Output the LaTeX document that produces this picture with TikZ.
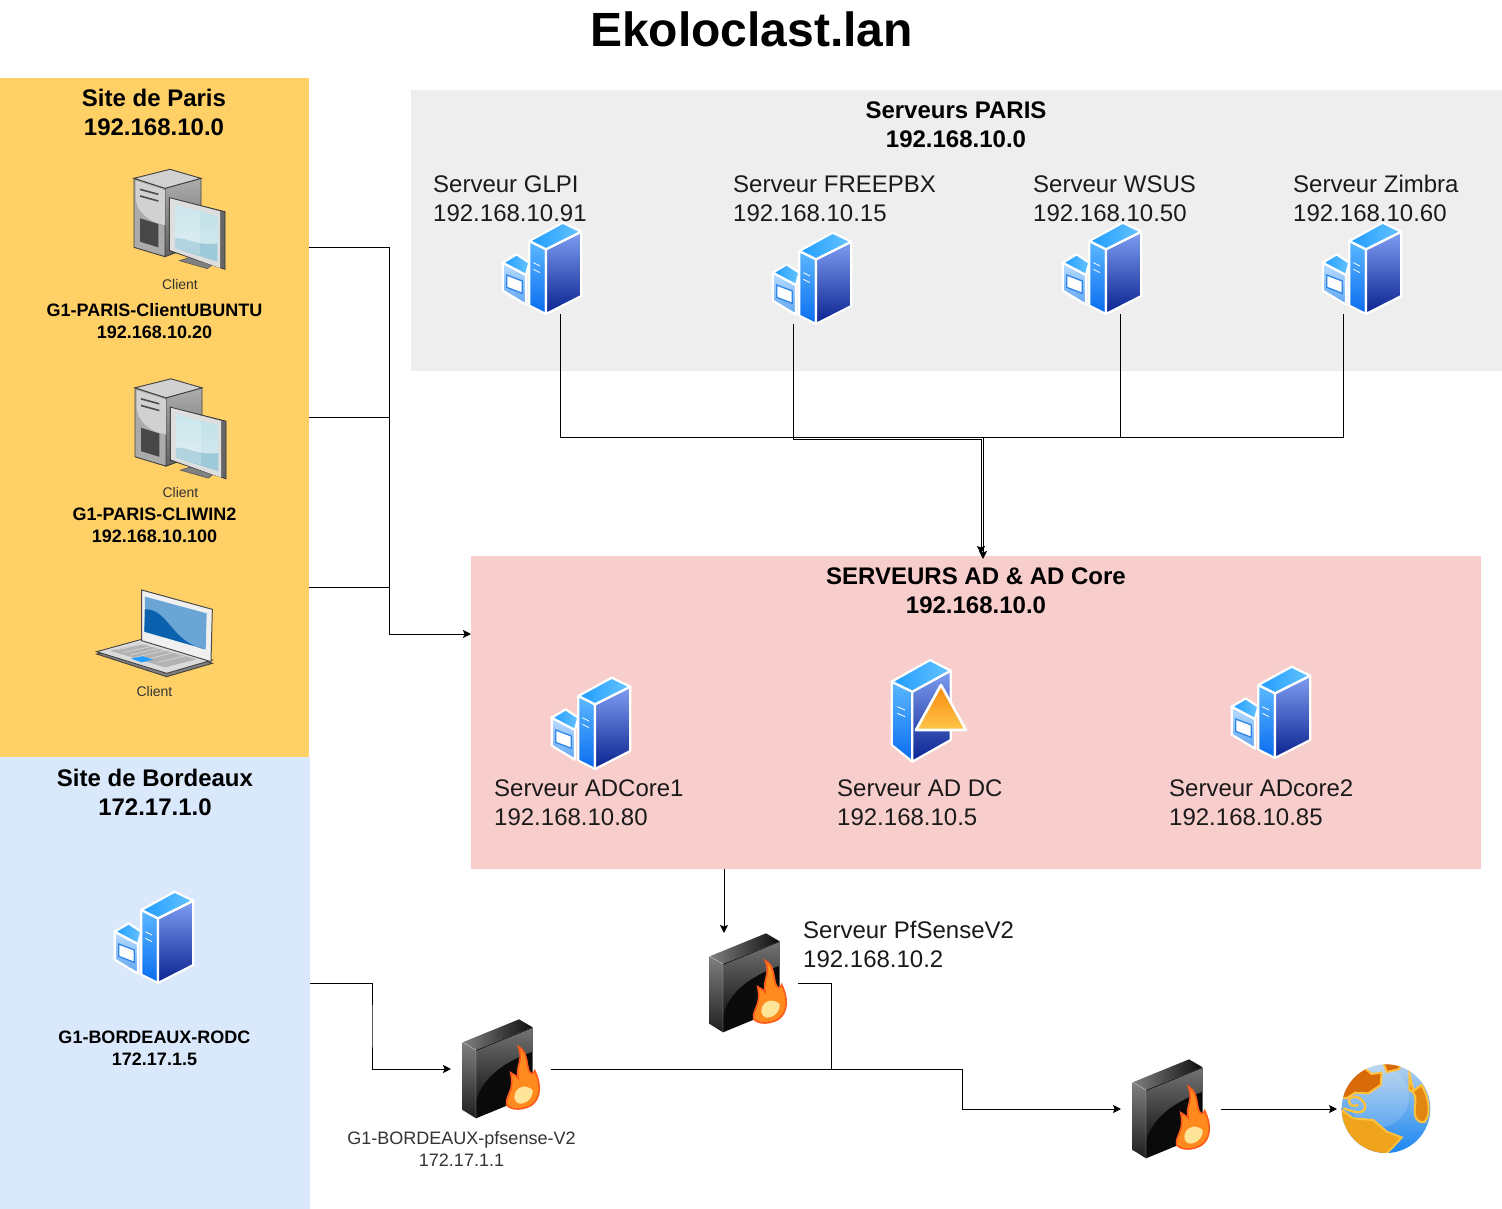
\documentclass[tikz,border=0pt]{standalone}
\usepackage{fontspec}
\setmainfont{Liberation Sans}
\usetikzlibrary{arrows.meta,calc}
\definecolor{parisfill}{HTML}{FFD066}
\definecolor{bordfill}{HTML}{DAE8FC}
\definecolor{greyfill}{HTML}{EEEEEE}
\definecolor{redfill}{HTML}{F8CECC}
\definecolor{txt}{HTML}{1A1A1A}
\definecolor{smalltxt}{HTML}{333333}
\definecolor{sLa}{HTML}{5CB8FF}\definecolor{sLb}{HTML}{0A6CF0}
\definecolor{sRa}{HTML}{7F9EF2}\definecolor{sRb}{HTML}{0A2290}
\definecolor{sTa}{HTML}{1F9CFF}\definecolor{sTb}{HTML}{66C4FF}
\definecolor{sBa}{HTML}{BBDDFF}\definecolor{sBb}{HTML}{5FA6F2}
\definecolor{sWin}{HTML}{2E86E8}
\definecolor{triA}{HTML}{F78A0C}\definecolor{triB}{HTML}{FFC64A}
\definecolor{glassA}{HTML}{BEDFE9}\definecolor{glassB}{HTML}{D8ECEE}
\definecolor{glassC}{HTML}{9DC9D8}
\definecolor{lapA}{HTML}{6AA5D6}\definecolor{lapB}{HTML}{0A62AE}
\definecolor{flameO}{HTML}{FF5A1C}\definecolor{flameM}{HTML}{FF8A1E}\definecolor{flameC}{HTML}{FFE59A}
\definecolor{glA}{HTML}{B4D0EC}\definecolor{glB}{HTML}{1A86F2}
\definecolor{glY}{HTML}{FFC23C}\definecolor{glD}{HTML}{D96A08}\definecolor{glM}{HTML}{F0A31C}\definecolor{glE}{HTML}{E28612}
\tikzset{
  x=1pt,y=-1pt,
  panel/.style={draw=none,inner sep=0pt,outer sep=0pt,minimum width=#1},
  iconbox/.style={inner sep=0pt,outer sep=0pt,minimum width=80pt,minimum height=92pt},
  fwbox/.style={inner sep=0pt,outer sep=0pt,minimum width=100pt,minimum height=100pt},
  rowbox/.style={inner sep=0pt,outer sep=0pt,minimum width=309pt,minimum height=10pt},
  conn/.style={draw=black,line width=1pt},
  arr/.style={conn,-{Stealth[length=8pt,width=8pt,inset=1.5pt]}},
  headtxt/.style={inner sep=0pt,align=center,text=black,font=\fontsize{24}{29}\selectfont\bfseries},
  srvtxt/.style={inner sep=0pt,align=left,anchor=west,text=txt,font=\fontsize{24}{29}\selectfont},
  cltxt/.style={inner sep=0pt,align=center,text=black,font=\fontsize{18}{22}\selectfont\bfseries},
  smalltext/.style={inner sep=0pt,align=center,text=smalltxt,font=\fontsize{14}{17}\selectfont},
  fwtxt/.style={inner sep=0pt,align=center,text=smalltxt,font=\fontsize{18}{22}\selectfont},
  wf/.style={draw=white,line width=2.2pt,line join=round},
  server/.pic={
    \begin{scope}[scale=1/3]
      \path[wf,top color=sBa,bottom color=sBb] (38,158)--(108,195)--(108,284)--(38,242)--cycle;
      \path[wf,left color=sTa,right color=sTb] (38,158)--(80,133)--(118,158)--(108,195)--cycle;
      \path[draw=sWin,fill=white,line width=1.3pt] (50,195)--(97,213)--(97,250)--(50,232)--cycle;
      \path[wf,top color=sLa,bottom color=sLb] (118,93)--(168,118)--(168,312)--(118,287)--cycle;
      \path[wf,top color=sRa,bottom color=sRb] (168,118)--(274,65)--(274,258)--(168,312)--cycle;
      \path[wf,left color=sTa,right color=sTb] (118,93)--(218,38)--(274,65)--(168,118)--cycle;
      \path[draw=white,line width=.8pt] (130,158)--(150,168) (130,178)--(150,188);
    \end{scope}
  },
  adserver/.pic={
    \begin{scope}[scale=1/3]
      \path[wf,top color=sLa,bottom color=sLb] (35,95)--(97,125)--(97,335)--(35,285)--cycle;
      \path[wf,top color=sRa,bottom color=sRb] (97,125)--(212,62)--(212,270)--(97,335)--cycle;
      \path[wf,left color=sTa,right color=sTb] (35,95)--(150,30)--(212,62)--(97,125)--cycle;
      \path[draw=white,line width=.8pt] (52,170)--(75,180) (52,190)--(75,200);
      \path[draw=white,line width=2.6pt,line join=round,top color=triA,bottom color=triB] (183,105)--(258,240)--(108,240)--cycle;
    \end{scope}
  },
  pcicon/.pic={
    \begin{scope}[scale=1/3]
      \path[draw=black!75,line width=.9pt,top color=black!32,bottom color=black!62] (225,85)--(333,55)--(333,250)--(225,290)--cycle;
      \path[draw=black!75,line width=.9pt,fill=black!33] (132,55)--(225,85)--(225,290)--(132,262)--cycle;
      \path[fill=black!18] (137,62)--(225,90)--(225,195) .. controls (170,185) and (137,150) .. (137,110)--cycle;
      \path[draw=black!75,line width=.9pt,fill=black!18] (132,55)--(240,28)--(333,55)--(225,85)--cycle;
      \path[fill=black!72] (150,175)--(205,192)--(205,262)--(150,245)--cycle;
      \path[draw=black!70,line width=1.6pt] (150,88)--(205,103) (150,108)--(205,123);
      \path[draw=black!65,fill=black!50,line width=.6pt] (268,302)--(300,292)--(370,312)--(352,326)--cycle;
      \path[draw=black!80,fill=black!60,line width=.7pt] (238,113)--(405,155)--(405,328)--(238,272)--cycle;
      \path[fill=black!13] (240,115)--(390,154)--(390,324)--(240,270)--cycle;
      \path[top color=glassA,bottom color=glassB] (255,133)--(382,168)--(382,305)--(255,265)--cycle;
      \path[fill=glassC] (255,235) .. controls (290,230) and (320,260) .. (382,250) -- (382,305) -- (255,265)--cycle;
      \path[fill=white,opacity=.22] (255,133)--(330,153)--(330,285)--(255,265)--cycle;
    \end{scope}
  },
  laptop/.pic={
    \begin{scope}[scale=1/3]
      \path[draw=black!75,fill=black!50,line width=.9pt] (35,222)--(170,188)--(382,250)--(245,290)--cycle;
      \path[draw=black!75,fill=black!14,line width=.9pt] (35,215)--(170,178)--(382,240)--(245,280)--cycle;
      \path[fill=black!6,draw=black!70,line width=1pt] (170,30)--(382,88)--(378,245)--(170,182)--cycle;
      \path[fill=lapA] (180,50)--(365,100)--(362,208)--(178,155)--cycle;
      \path[fill=lapB] (180,88) .. controls (250,85) and (260,190) .. (362,208) -- (178,155) -- cycle;
      \path[fill=black!30] (75,212)--(170,192)--(335,238)--(240,262)--cycle;
      \path[draw=black!12,line width=.5pt] (95,210)--(185,190) (115,218)--(205,198) (135,225)--(225,204) (155,231)--(245,210) (185,238)--(265,218) (215,248)--(300,228);
      \path[fill=sTa] (138,236)--(172,229)--(205,239)--(170,247)--cycle;
    \end{scope}
  },
  firewall/.pic={
    \begin{scope}[scale=1/3]
      \path[left color=black!50,right color=black!95] (38,97)--(207,28)--(248,52)--(78,120)--cycle;
      \path[top color=black!50,bottom color=black!88] (38,97)--(78,120)--(78,325)--(38,300)--cycle;
      \path[fill=black!96] (78,120)--(248,52)--(248,255)--(78,325)--cycle;
      \path[top color=black!55,bottom color=black!90] (80,122)--(248,54)--(248,125) .. controls (150,160) and (95,210) .. (80,270)--cycle;
      \path[draw=black!25,line width=.4pt] (38,97)--(78,120)--(78,325);
      \path[fill=flameM,draw=flameO,line width=1.6pt]
        (205,110) .. controls (235,125) and (228,165) .. (238,185) .. controls (245,195) and (252,190) .. (254,182)
        .. controls (275,225) and (272,265) .. (245,285) .. controls (220,300) and (185,302) .. (170,285)
        .. controls (165,255) and (195,245) .. (182,188) .. controls (192,192) and (200,200) .. (205,205)
        .. controls (195,170) and (222,150) .. (205,110) -- cycle;
      \path[fill=flameC] (195,250) .. controls (205,225) and (230,225) .. (248,240) .. controls (250,265) and (225,285) .. (205,280) .. controls (195,275) and (190,265) .. (195,250) -- cycle;
    \end{scope}
  },
  globeicon/.pic={
    \begin{scope}[scale=1/3]
      \path[top color=glA,bottom color=glB] (798,176) circle[radius=133];
      \path[fill=white,opacity=.14] (775,140) circle[radius=92];
      \begin{scope}
        \clip (798,176) circle[radius=133];
        \path[fill=glD,draw=glY,line width=2pt] (735,55)--(755,72)--(785,68)--(782,105)--(745,130)--(705,128)--(680,145)--(655,140)--(680,40)--cycle;
        \path[fill=glD,draw=glY,line width=2pt] (790,38)--(850,38)--(835,58)--(800,66)--cycle;
        \path[fill=glM,draw=glY,line width=2pt] (650,170)--(700,205)--(760,210)--(800,245)--(845,262)--(820,290)--(785,325)--(720,320)--(650,260)--cycle;
        \path[fill=glE,draw=glY,line width=2pt] (868,70)--(880,122)--(905,105) .. controls (925,140) and (935,190) .. (915,215) .. controls (895,222) and (880,205) .. (885,170) .. controls (888,140) and (885,125) .. (868,120)--cycle;
        \path[draw=glY,line width=2.4pt] (670,175) .. controls (700,185) and (725,195) .. (735,175) .. controls (740,155) and (710,130) .. (690,145) .. controls (680,165) and (700,172) .. (715,165);
      \end{scope}
    \end{scope}
  }
}
\newcommand{\srvicon}[3]{%
  \node[iconbox] (#1) at ($(#2,#3)+(52,58)$) {};
  \pic at (#2,#3) {server};
}
\newcommand{\fwicon}[3]{%
  \node[fwbox] (#1) at (#2,#3) {};
  \pic at ($(#2,#3)+(-51,-59)$) {firewall};
}
\begin{document}
\begin{tikzpicture}
\useasboundingbox (0,0) rectangle (1502,1209);
\fill[white] (0,0) rectangle (1502,1209);
% panels
\node[panel=309pt,minimum height=679pt,fill=parisfill,anchor=north west] (paris) at (0,78) {};
\node[panel=310pt,minimum height=452pt,fill=bordfill,anchor=north west] (bord) at (0,757) {};
\node[panel=1091pt,minimum height=281pt,fill=greyfill,anchor=north west] (greyp) at (411,90) {};
\node[panel=1010pt,minimum height=313pt,fill=redfill,anchor=north west] (adp) at (471,556) {};
% title and headers
\node[inner sep=0pt,font=\fontsize{48}{56}\selectfont\bfseries] (title) at (751.5,29) {Ekoloclast.lan};
\node[headtxt] (hparis) at (154,112.5) {Site de Paris\\192.168.10.0};
\node[headtxt] (hbord) at (155,792.5) {Site de Bordeaux\\172.17.1.0};
\node[headtxt] (hsrv) at (956,124.5) {Serveurs PARIS\\192.168.10.0};
\node[headtxt] (had) at (976,590.5) {SERVEURS AD \& AD Core\\192.168.10.0};
% client rows
\node[rowbox] (cli1) at (154.5,247.5) {};
\node[rowbox] (cli2) at (154.5,417.5) {};
\node[rowbox] (cli3) at (154.5,587.5) {};
\pic at (90,160) {pcicon};
\pic at (91,369.5) {pcicon};
\pic at (85,580) {laptop};
\node[smalltext] (c1) at (180,284) {Client};
\node[cltxt] (n1) at (154.5,321) {G1-PARIS-ClientUBUNTU\\192.168.10.20};
\node[smalltext] (c2) at (180.5,492) {Client};
\node[cltxt] (n2) at (154.5,525) {G1-PARIS-CLIWIN2\\192.168.10.100};
\node[smalltext] (c3) at (154.5,691) {Client};
% Paris servers
\srvicon{glpi}{490}{210}
\srvicon{pbx}{760}{220}
\srvicon{wsus}{1050}{210}
\srvicon{zim}{1310}{210}
\node[srvtxt] (t1) at (433,198.5) {Serveur GLPI\\192.168.10.91};
\node[srvtxt] (t2) at (733,198.5) {Serveur FREEPBX\\192.168.10.15};
\node[srvtxt] (t3) at (1033,198.5) {Serveur WSUS\\192.168.10.50};
\node[srvtxt] (t4) at (1293,198.5) {Serveur Zimbra\\192.168.10.60};
% AD servers
\srvicon{adc1}{539}{665}
\srvicon{adc2}{1219}{654}
\node[iconbox] (addc) at (922,713) {};
\pic at (880,650) {adserver};
\node[srvtxt] (t5) at (494,802.5) {Serveur ADCore1\\192.168.10.80};
\node[srvtxt] (t6) at (837,802.5) {Serveur AD DC\\192.168.10.5};
\node[srvtxt] (t7) at (1169,802.5) {Serveur ADcore2\\192.168.10.85};
% Bordeaux
\srvicon{rodc}{102}{879}
\node[cltxt] (n3) at (154.5,1048) {G1-BORDEAUX-RODC\\172.17.1.5};
% firewalls and globe
\fwicon{pf}{748}{983}
\fwicon{bf}{501}{1069}
\fwicon{wf3}{1171}{1109}
\node[inner sep=0pt,outer sep=0pt,minimum size=100pt] (net) at (1387,1109) {};
\pic at (1120,1050) {globeicon};
\node[srvtxt] (t8) at (803,944.5) {Serveur PfSenseV2\\192.168.10.2};
\node[fwtxt] (t9) at (461.5,1148.5) {G1-BORDEAUX-pfsense-V2\\172.17.1.1};
% junctions
\coordinate (bus) at (983,437.5);
\coordinate (bus2) at (981,439);
\coordinate (trunk) at (389.5,634);
\coordinate (adin) at ($(adp.west)+(0,-78.5)$);
\coordinate (jA) at (962,1069);
\coordinate (jB) at (831,1069);
\coordinate (jC) at (372,1026);
% connectors
\draw[arr] ($(glpi.south)+(18,0)$) |- (bus) -- ($(adp.north)+(7,3)$);
\draw[conn] ($(wsus.south)+(18,0)$) |- (bus);
\draw[conn] ($(zim.south)+(-18.5,0)$) |- (bus);
\draw[arr] ($(pbx.south)+(-18.5,0)$) |- (bus2) -- ($(adp.north)+(5,-2)$);
\draw[arr] (cli1.east) -| (trunk) -- (adin);
\draw[conn] (cli2.east) -| (trunk);
\draw[conn] (cli3.east) -| (trunk);
\draw[arr] ($(adp.south)+(-252,0)$) -- ($(pf.north)+(-24,0)$);
\draw[conn] (pf.east) -| (jB);
\draw[arr] (bf.east) -- (jA) |- (wf3.west);
\draw[arr] (bord.east) -| (jC) |- (bf.west);
\draw[arr] (wf3.east) -- (net.west);
\end{tikzpicture}
\end{document}
